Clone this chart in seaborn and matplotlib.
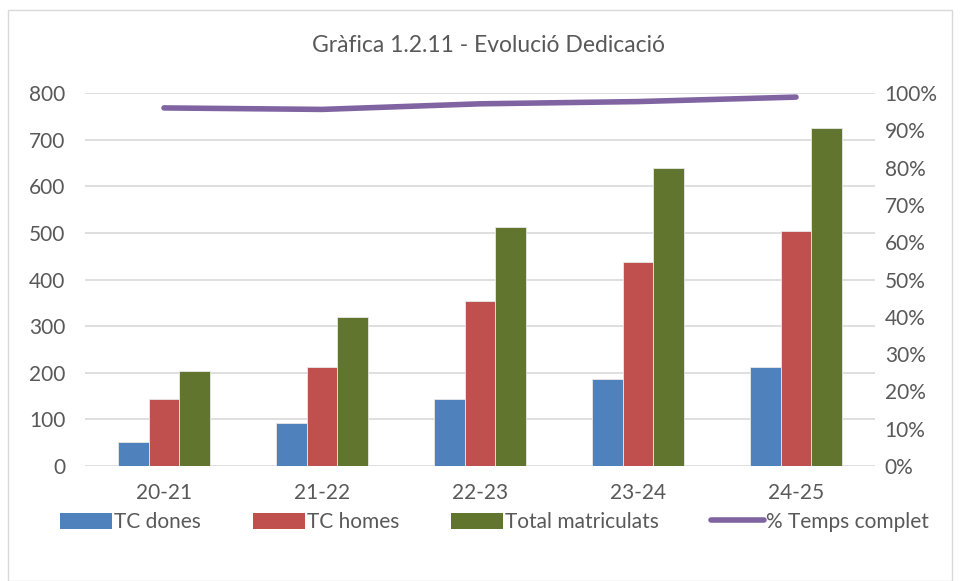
import matplotlib
matplotlib.use("Agg")
import matplotlib.pyplot as plt
import seaborn as sns
import pandas as pd
from matplotlib.patches import Rectangle, Patch
from matplotlib.lines import Line2D
from matplotlib.ticker import PercentFormatter

categories = ["20-21", "21-22", "22-23", "23-24", "24-25"]
tc_dones = [51, 92, 144, 186, 212]
tc_homes = [144, 213, 353, 438, 504]
total_matriculats = [203, 319, 512, 639, 724]
pct_temps_complet = [0.960, 0.956, 0.971, 0.977, 0.989]

series_names = ["TC dones", "TC homes", "Total matriculats"]
line_name = "% Temps complet"
colors = ["#4F81BD", "#C0504D", "#62752F"]
line_color = "#8064A2"
text_color = "#595959"

sns.set_theme(style="white")
plt.rcParams["font.family"] = ["Lato", "DejaVu Sans"]

df = pd.DataFrame({
    "cat": categories * 3,
    "serie": sum([[s] * len(categories) for s in series_names], []),
    "val": tc_dones + tc_homes + total_matriculats,
})
df_line = pd.DataFrame({"cat": categories, "pct": pct_temps_complet})

fig = plt.figure(figsize=(9.6, 5.81), dpi=100)
ax = fig.add_axes([85 / 960, 1 - 466 / 581, 790 / 960, (466 - 93) / 581])

sns.barplot(data=df, x="cat", y="val", hue="serie", palette=colors, width=0.58,
            ax=ax, edgecolor="#E8E8E8", linewidth=0.6, legend=False, saturation=1)
ax.set_ylim(0, 800)
ax.set_xlim(-0.5, 4.5)
ax.set_yticks(range(0, 801, 100))
ax.grid(axis="y", color="#D9D9D9", linewidth=1.2)
ax.set_axisbelow(True)
for s in ax.spines.values():
    s.set_visible(False)
ax.set_xlabel("")
ax.set_ylabel("")
ax.tick_params(axis="y", length=0, pad=14, labelsize=15, labelcolor=text_color)
ax.tick_params(axis="x", length=0, pad=12, labelsize=15, labelcolor=text_color)

ax2 = ax.twinx()
sns.lineplot(data=df_line, x="cat", y="pct", color=line_color, linewidth=4,
             ax=ax2, solid_capstyle="round", sort=False)
ax2.set_ylim(0, 1)
ax2.set_yticks([i / 10 for i in range(11)])
ax2.yaxis.set_major_formatter(PercentFormatter(1.0, decimals=0))
for s in ax2.spines.values():
    s.set_visible(False)
ax2.set_ylabel("")
ax2.set_xlabel("")
ax2.grid(False)
ax2.tick_params(axis="y", length=0, pad=7, labelsize=15, labelcolor=text_color)
ax.set_xlim(-0.5, 4.5)

fig.text(488 / 960, 1 - 45 / 581, "Gràfica 1.2.11 - Evolució Dedicació",
         ha="center", va="center", fontsize=16.5, color=text_color)

handles = [Patch(facecolor=c, edgecolor="none") for c in colors]
handles.append(Line2D([0], [0], color=line_color, linewidth=4, solid_capstyle="round"))
fig.legend(handles, series_names + [line_name], loc="center",
           bbox_to_anchor=(494 / 960, 1 - 522 / 581), ncol=4, frameon=False,
           fontsize=15, labelcolor=text_color, handlelength=2.5, handleheight=0.8,
           handletextpad=0.1, columnspacing=2.5)

fig.patches.append(Rectangle((8 / 960, 0.5 / 581), 944 / 960, 571 / 581,
                             transform=fig.transFigure, fill=False,
                             edgecolor="#D9D9D9", linewidth=1))

fig.savefig("out.png", dpi=100, facecolor="white")
